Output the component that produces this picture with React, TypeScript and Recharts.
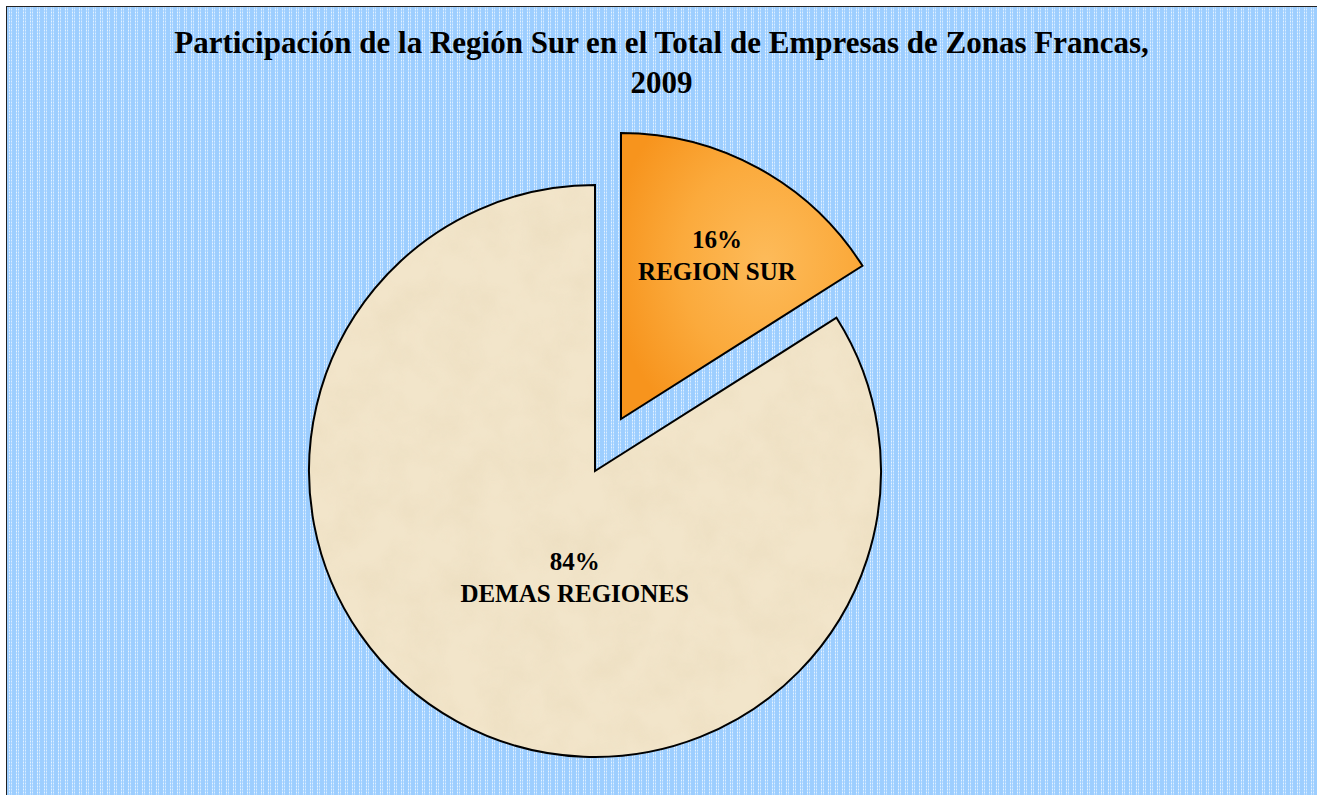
import { PieChart, Pie, Cell } from 'recharts';

const categories = ['REGION SUR', 'DEMAS REGIONES'];
const shares = [16, 84];
const percentLabels = ['16%', '84%'];

const data = categories.map((name, i) => ({ name, value: shares[i], pct: percentLabels[i] }));

const W = 1311;
const H = 789;
const R = 286;
// main pie centre and exploded slice centre (chart coordinates)
const MAIN = { cx: 584, cy: 460 };
const EXPLODED = { cx: 610, cy: 408 };
const labelDist = [0.66, 0.38];
const labelShiftX = [5, 32];
const labelShiftY = [5, 15];

const RADIAN = Math.PI / 180;
const serif = '"Liberation Serif", "Times New Roman", serif';

function makeLabel(show: number) {
  return (props: any) => {
    const { cx, cy, midAngle, outerRadius, index } = props;
    if (index !== show) return null;
    const r = outerRadius * labelDist[index];
    const x = cx + r * Math.cos(-midAngle * RADIAN) + labelShiftX[index];
    const y = cy + r * Math.sin(-midAngle * RADIAN) + labelShiftY[index];
    return (
      <text x={x} y={y} textAnchor="middle" fontFamily={serif} fontWeight="bold" fontSize={25} fill="#000">
        <tspan x={x} dy={-11}>{data[index].pct}</tspan>
        <tspan x={x} dy={32}>{data[index].name}</tspan>
      </text>
    );
  };
}

export default function App() {
  return (
    <div
      style={{
        position: 'fixed',
        left: 6,
        top: 6,
        width: W,
        height: H,
        borderTop: '1.5px solid #222',
        borderLeft: '1.5px solid #222',
        boxSizing: 'border-box',
        overflow: 'hidden',
        backgroundColor: '#9dceff',
        backgroundImage:
          'repeating-linear-gradient(0deg, rgba(157,206,255,0.55) 0px, rgba(157,206,255,0.55) 2px, rgba(157,206,255,0) 2px, rgba(157,206,255,0) 3px), repeating-linear-gradient(90deg, rgba(255,255,255,0) 0px, rgba(255,255,255,0) 2px, rgba(238,247,255,0.9) 2px, rgba(238,247,255,0.9) 3px, rgba(255,255,255,0) 3px, rgba(255,255,255,0) 4px, rgba(238,247,255,0.75) 4px, rgba(238,247,255,0.75) 5px, rgba(255,255,255,0) 5px, rgba(255,255,255,0) 7px)',
      }}
    >
      <div
        style={{
          position: 'absolute',
          left: 0,
          top: 16,
          width: W - 2,
          textAlign: 'center',
          fontFamily: serif,
          fontWeight: 'bold',
          fontSize: 31,
          lineHeight: '40px',
          color: '#000',
        }}
      >
        Participación de la Región Sur en el Total de Empresas de Zonas Francas,
        <br />
        2009
      </div>
      <PieChart width={W} height={H} style={{ position: 'absolute', left: -1.5, top: -1.5 }}>
        <defs>
          <radialGradient id="surFill" cx="0.6" cy="0.45" r="0.65">
            <stop offset="0%" stopColor="#fdbb5a" />
            <stop offset="55%" stopColor="#fbaa3c" />
            <stop offset="100%" stopColor="#f7941d" />
          </radialGradient>
          <filter id="paperNoise" x="0" y="0" width="100%" height="100%">
            <feTurbulence type="fractalNoise" baseFrequency="0.025" numOctaves={4} seed={3} />
            <feColorMatrix
              type="matrix"
              values="0 0 0 0 0.78  0 0 0 0 0.66  0 0 0 0 0.45  0 0 0 -1.6 1.1"
            />
          </filter>
          <pattern id="demasFill" patternUnits="userSpaceOnUse" x="0" y="0" width={W} height={H}>
            <rect width={W} height={H} fill="#f2e5ca" />
            <rect width={W} height={H} filter="url(#paperNoise)" opacity={0.35} />
          </pattern>
        </defs>
        <Pie
          data={data}
          dataKey="value"
          nameKey="name"
          cx={MAIN.cx}
          cy={MAIN.cy}
          outerRadius={R}
          startAngle={90}
          endAngle={-270}
          labelLine={false}
          label={makeLabel(1)}
          isAnimationActive={false}
        >
          <Cell fill="none" stroke="none" />
          <Cell fill="url(#demasFill)" stroke="#000" strokeWidth={2} />
        </Pie>
        <Pie
          data={data}
          dataKey="value"
          nameKey="name"
          cx={EXPLODED.cx}
          cy={EXPLODED.cy}
          outerRadius={R}
          startAngle={90}
          endAngle={-270}
          labelLine={false}
          label={makeLabel(0)}
          isAnimationActive={false}
        >
          <Cell fill="url(#surFill)" stroke="#000" strokeWidth={2} />
          <Cell fill="none" stroke="none" />
        </Pie>
      </PieChart>
    </div>
  );
}
